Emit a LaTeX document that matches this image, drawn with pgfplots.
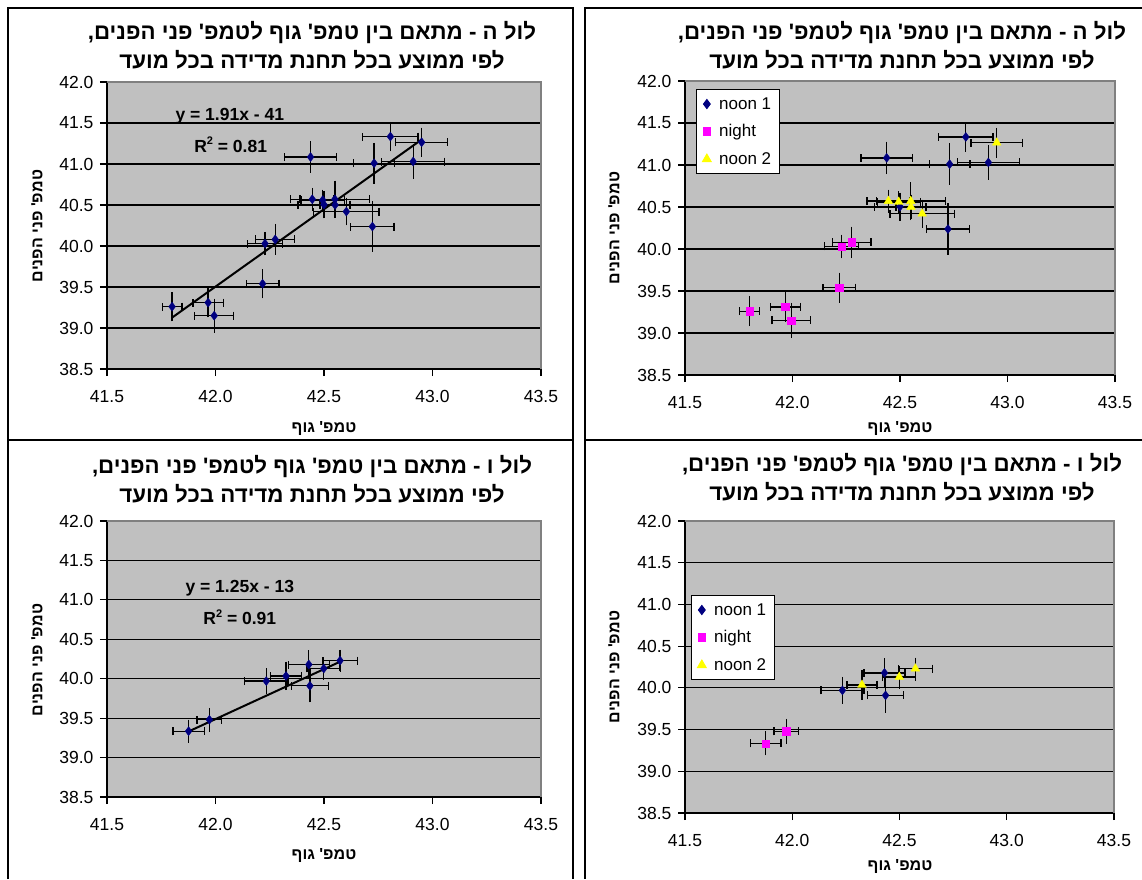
\documentclass[border=0pt]{standalone}
\usepackage{pgfplots}
\pgfplotsset{compat=1.18}
\usepackage{pgfplotstable}
\usepackage{fontspec}
\setmainfont{Liberation Sans}
\newfontfamily\hebfont[Script=Hebrew]{Liberation Sans}
\TeXXeTstate=1
\newcommand{\heb}[1]{{\hebfont\beginR #1\endR}}
\definecolor{plotgray}{HTML}{C0C0C0}
\definecolor{bordergray}{HTML}{808080}
\definecolor{navyX}{HTML}{000080}
\definecolor{magentaX}{HTML}{FF00FF}
\definecolor{yellowX}{HTML}{FFFF00}

% s: 1 = noon 1, 2 = night, 3 = noon 2
\pgfplotstableread{
x y ex ey s
41.800 39.260 0.045 0.130 2
41.966 39.310 0.070 0.130 2
41.994 39.150 0.090 0.160 2
42.217 39.540 0.075 0.130 2
42.228 40.030 0.080 0.095 2
42.275 40.080 0.090 0.140 2
42.438 41.085 0.120 0.145 1
42.446 40.570 0.100 0.090 3
42.494 40.560 0.100 0.080 3
42.500 40.505 0.120 0.120 1
42.550 40.570 0.160 0.180 3
42.551 40.500 0.070 0.100 3
42.603 40.420 0.150 0.120 3
42.723 40.237 0.100 0.260 1
42.731 41.010 0.095 0.200 1
42.806 41.334 0.127 0.130 1
42.911 41.030 0.145 0.160 1
42.950 41.265 0.120 0.130 3
}\lulH

\pgfplotstableread{
x y ex ey s
41.876 39.335 0.072 0.095 2
41.972 39.480 0.057 0.100 2
42.234 39.970 0.100 0.115 1
42.325 40.035 0.070 0.130 3
42.430 40.180 0.095 0.130 1
42.435 39.910 0.085 0.160 1
42.499 40.130 0.077 0.090 3
42.574 40.230 0.080 0.085 3
}\lulV

\newcommand{\tickfont}{\fontsize{17.5}{20}\selectfont}
\newcommand{\legfont}{\fontsize{17}{20}\selectfont}
\pgfplotsset{
  excel/.style={
    scale only axis,
    xmin=41.5, xmax=43.5, ymin=38.5, ymax=42,
    xtick={41.5,42,42.5,43,43.5},
    ytick={38.5,39,39.5,40,40.5,41,41.5,42},
    xticklabels={41.5,42.0,42.5,43.0,43.5},
    yticklabels={38.5,39.0,39.5,40.0,40.5,41.0,41.5,42.0},
    axis x line*=bottom, axis y line*=left,
    axis line style={black, line width=1.2pt},
    tick align=outside, major tick length=7pt,
    tick style={black, line width=1.2pt},
    ymajorgrids, grid style={black, line width=1.2pt},
    axis background/.style={fill=plotgray},
    ticklabel style={font=\tickfont},
    xticklabel style={yshift=-11pt},
    yticklabel style={xshift=-3pt},
    clip=false,
  },
  xerr/.style={forget plot, draw=none, mark=none, line width=1.3pt,
    error bars/.cd, x dir=both, x explicit, error mark=|,
    error bar style={draw=black, line width=1.3pt},
    error mark options={draw=black, line width=1.3pt, mark size=4pt}},
  yerr/.style={forget plot, draw=none, mark=none, line width=1.3pt,
    error bars/.cd, y dir=both, y explicit, error mark=-,
    error bar style={draw=black, line width=1.3pt},
    error mark options={draw=black, line width=1.3pt, mark size=4pt}},
  excellegend/.style={
    legend style={at={#1}, anchor=north west, draw=black, line width=1pt,
      fill=white, font={\legfont}, row sep=10pt, column sep=6pt,
      inner xsep=6pt, inner ysep=6pt},
    legend cell align=left,
  },
}
\newcommand{\frameTR}{\draw[bordergray, line width=1.5pt] (rel axis cs:0,1) -- (rel axis cs:1,1) -- (rel axis cs:1,0);}
\newcommand{\titlefont}{\bfseries\fontsize{22.3}{26}\selectfont}
\newcommand{\labelfont}{\bfseries\fontsize{16}{19}\selectfont}
\newcommand{\eqfont}{\bfseries\fontsize{17.5}{20}\selectfont}
\newcommand{\sqr}{\raisebox{0.45em}{\fontsize{11}{12}\selectfont 2}}

\begin{document}
\begin{tikzpicture}
\path[use as bounding box] (0pt,0pt) rectangle (1142pt,-879pt);
% panel frames
\draw[black, line width=1.3pt] (8pt,-879pt) -- (8pt,-8pt) -- (573pt,-8pt) -- (573pt,-879pt);
\draw[black, line width=1.3pt] (8pt,-440pt) -- (573pt,-440pt);
\draw[black, line width=1.3pt] (1142pt,-8pt) -- (585pt,-8pt) -- (585pt,-879pt);
\draw[black, line width=1.3pt] (585pt,-440pt) -- (1142pt,-440pt);

% ---------- top left ----------
\begin{axis}[excel, at={(107pt,-369pt)}, anchor=south west, width=434pt, height=287pt]
\addplot[xerr] table[x=x, y=y, x error=ex] {\lulH};
\addplot[yerr] table[x=x, y=y, y error=ey] {\lulH};
\addplot[only marks, mark=diamond*, mark size=4.5pt, color=navyX] table[x=x, y=y] {\lulH};
\addplot[black, line width=2pt, forget plot] table[x=x, y={create col/linear regression={y=y}}] {\lulH};
\node[font=\eqfont] at (axis cs:42.066,41.58) {y = 1.91x - 41};
\node[font=\eqfont] at (axis cs:42.07,41.24) {R\sqr\ = 0.81};
\frameTR
\end{axis}

% ---------- top right ----------
\begin{axis}[excel, at={(685pt,-375pt)}, anchor=south west, width=430pt, height=294pt,
  excellegend={(0.0256,0.973)}, restrict x to domain=41:44]
\addplot[xerr] table[x=x, y=y, x error=ex] {\lulH};
\addplot[yerr] table[x=x, y=y, y error=ey] {\lulH};
\addplot[only marks, mark=diamond*, mark size=4.5pt, color=navyX]
  table[x expr={ifthenelse(\thisrow{s}==1,\thisrow{x},-1000)}, y=y] {\lulH};
\addlegendentry{noon 1}
\addplot[only marks, mark=square*, mark size=3.6pt, color=magentaX]
  table[x expr={ifthenelse(\thisrow{s}==2,\thisrow{x},-1000)}, y=y] {\lulH};
\addlegendentry{night}
\addplot[only marks, mark=triangle*, mark size=5pt, color=yellowX]
  table[x expr={ifthenelse(\thisrow{s}==3,\thisrow{x},-1000)}, y=y] {\lulH};
\addlegendentry{noon 2}
\frameTR
\end{axis}

% ---------- bottom left ----------
\begin{axis}[excel, at={(107pt,-797pt)}, anchor=south west, width=434pt, height=276pt]
\addplot[xerr] table[x=x, y=y, x error=ex] {\lulV};
\addplot[yerr] table[x=x, y=y, y error=ey] {\lulV};
\addplot[only marks, mark=diamond*, mark size=4.5pt, color=navyX] table[x=x, y=y] {\lulV};
\addplot[black, line width=2pt, forget plot] table[x=x, y={create col/linear regression={y=y}}] {\lulV};
\node[font=\eqfont] at (axis cs:42.112,41.15) {y = 1.25x - 13};
\node[font=\eqfont] at (axis cs:42.112,40.78) {R\sqr\ = 0.91};
\frameTR
\end{axis}

% ---------- bottom right ----------
\begin{axis}[excel, at={(685pt,-813pt)}, anchor=south west, width=429pt, height=292pt,
  excellegend={(0.014,0.747)}, restrict x to domain=41:44]
\addplot[xerr] table[x=x, y=y, x error=ex] {\lulV};
\addplot[yerr] table[x=x, y=y, y error=ey] {\lulV};
\addplot[only marks, mark=diamond*, mark size=4.5pt, color=navyX]
  table[x expr={ifthenelse(\thisrow{s}==1,\thisrow{x},-1000)}, y=y] {\lulV};
\addlegendentry{noon 1}
\addplot[only marks, mark=square*, mark size=3.6pt, color=magentaX]
  table[x expr={ifthenelse(\thisrow{s}==2,\thisrow{x},-1000)}, y=y] {\lulV};
\addlegendentry{night}
\addplot[only marks, mark=triangle*, mark size=5pt, color=yellowX]
  table[x expr={ifthenelse(\thisrow{s}==3,\thisrow{x},-1000)}, y=y] {\lulV};
\addlegendentry{noon 2}
\frameTR
\end{axis}

% ---------- titles ----------
\node[font=\titlefont, anchor=base] at (312pt,-39pt) {\heb{לול ה - מתאם בין טמפ' גוף לטמפ' פני הפנים,}};
\node[font=\titlefont, anchor=base] at (312pt,-68pt) {\heb{לפי ממוצע בכל תחנת מדידה בכל מועד}};
\node[font=\titlefont, anchor=base] at (902pt,-39pt) {\heb{לול ה - מתאם בין טמפ' גוף לטמפ' פני הפנים,}};
\node[font=\titlefont, anchor=base] at (902pt,-68pt) {\heb{לפי ממוצע בכל תחנת מדידה בכל מועד}};
\node[font=\titlefont, anchor=base] at (312pt,-473pt) {\heb{לול ו - מתאם בין טמפ' גוף לטמפ' פני הפנים,}};
\node[font=\titlefont, anchor=base] at (312pt,-502pt) {\heb{לפי ממוצע בכל תחנת מדידה בכל מועד}};
\node[font=\titlefont, anchor=base] at (902pt,-471pt) {\heb{לול ו - מתאם בין טמפ' גוף לטמפ' פני הפנים,}};
\node[font=\titlefont, anchor=base] at (902pt,-500pt) {\heb{לפי ממוצע בכל תחנת מדידה בכל מועד}};

% ---------- axis labels ----------
\node[font=\labelfont] at (324pt,-428pt) {\heb{טמפ' גוף}};
\node[font=\labelfont] at (900pt,-428pt) {\heb{טמפ' גוף}};
\node[font=\labelfont] at (324pt,-855pt) {\heb{טמפ' גוף}};
\node[font=\labelfont] at (900pt,-866pt) {\heb{טמפ' גוף}};
\node[font=\labelfont, rotate=90] at (37pt,-226pt) {\heb{טמפ' פני הפנים}};
\node[font=\labelfont, rotate=90] at (614pt,-228pt) {\heb{טמפ' פני הפנים}};
\node[font=\labelfont, rotate=90] at (37pt,-660pt) {\heb{טמפ' פני הפנים}};
\node[font=\labelfont, rotate=90] at (614pt,-667pt) {\heb{טמפ' פני הפנים}};
\end{tikzpicture}
\end{document}
